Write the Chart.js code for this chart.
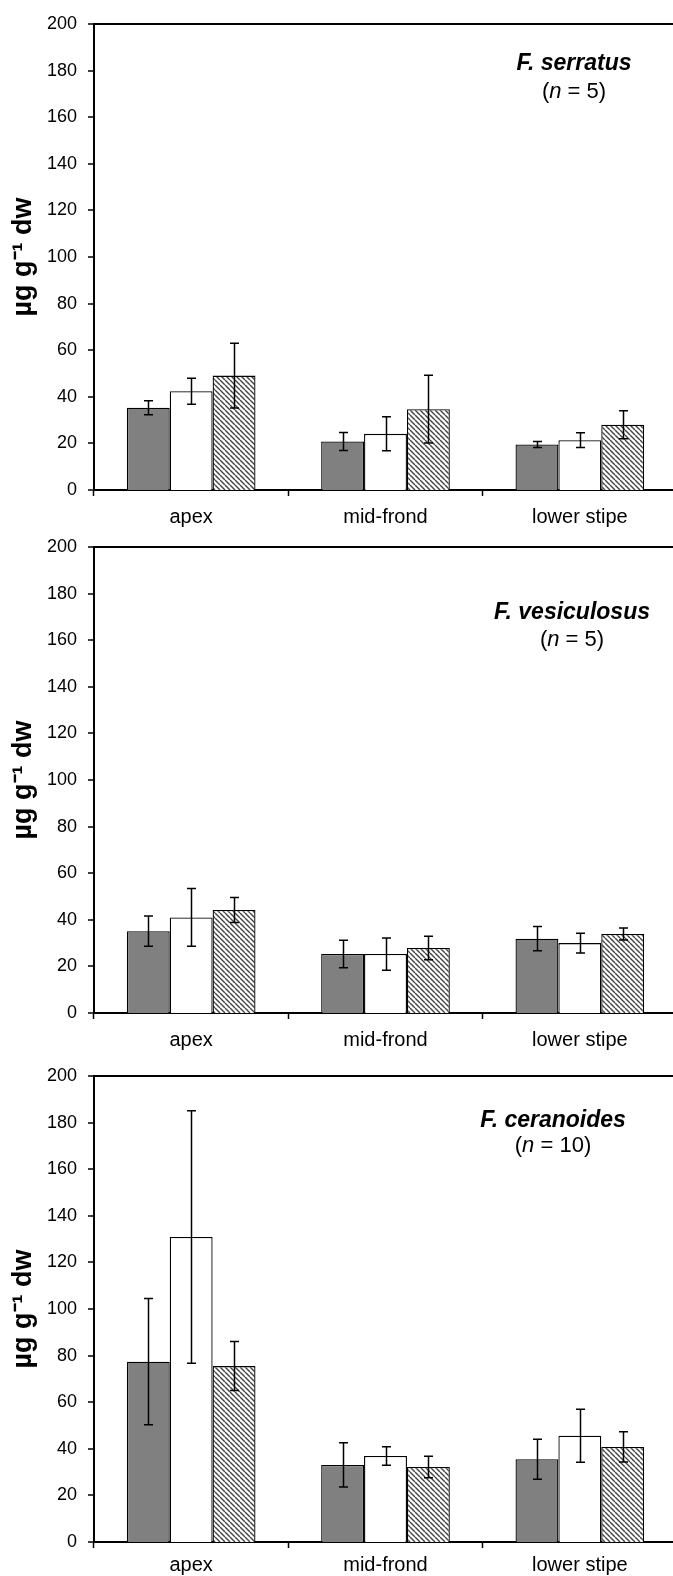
<!DOCTYPE html>
<html>
<head>
<meta charset="utf-8">
<script src="https://cdn.jsdelivr.net/npm/chart.js@4.4.1/dist/chart.umd.min.js"></script>
<style>
  html, body { margin: 0; padding: 0; background: #fff; }
  body { width: 673px; height: 1576px; position: relative; overflow: hidden; }
  .panel { position: absolute; left: 0; width: 680px; height: 540px; }
  canvas { display: block; }
</style>
</head>
<body>
<div class="panel" style="top:0px"><canvas id="c1" width="680" height="540"></canvas></div>
<div class="panel" style="top:523px"><canvas id="c2" width="680" height="540"></canvas></div>
<div class="panel" style="top:1052px"><canvas id="c3" width="680" height="540"></canvas></div>
<script>
// ---------- data ----------
const categories = ['apex', 'mid-frond', 'lower stipe'];
const yMin = 0, yMax = 200, yStep = 20;
const yAxisTitle = 'µg g⁻¹ dw';

// F. serratus (n = 5)
const serratusDark = [35.3, 20.8, 19.5];
const serratusDarkErr = [3.0, 3.9, 1.3];
const serratusWhite = [42.4, 24.1, 21.4];
const serratusWhiteErr = [5.6, 7.3, 3.2];
const serratusHatched = [49.1, 34.7, 28.0];
const serratusHatchedErr = [13.9, 14.5, 6.0];

// F. vesiculosus (n = 5)
const vesiculosusDark = [35.1, 25.3, 31.9];
const vesiculosusDarkErr = [6.5, 5.9, 5.2];
const vesiculosusWhite = [41.0, 25.3, 30.0];
const vesiculosusWhiteErr = [12.4, 6.9, 4.2];
const vesiculosusHatched = [44.2, 27.9, 33.9];
const vesiculosusHatchedErr = [5.4, 5.0, 2.6];

// F. ceranoides (n = 10)
const ceranoidesDark = [77.4, 33.1, 35.5];
const ceranoidesDarkErr = [27.1, 9.5, 8.6];
const ceranoidesWhite = [130.9, 36.9, 45.6];
const ceranoidesWhiteErr = [54.2, 4.0, 11.4];
const ceranoidesHatched = [75.5, 32.2, 40.8];
const ceranoidesHatchedErr = [10.5, 4.6, 6.5];

const speciesNames = ['F. serratus', 'F. vesiculosus', 'F. ceranoides'];
const sampleSizes = [5, 5, 10];

// ---------- styling ----------
const FONT = "'Liberation Sans', Arial, Helvetica, sans-serif";
const DARK = '#808080';

function makeHatch(ctx) {
  const s = 5;
  const c = document.createElement('canvas');
  c.width = s; c.height = s;
  const g = c.getContext('2d');
  g.fillStyle = '#ffffff';
  g.fillRect(0, 0, s, s);
  g.strokeStyle = '#444444';
  g.lineWidth = 1.4;
  for (const o of [-s, 0, s]) {
    g.beginPath();
    g.moveTo(o, 0);
    g.lineTo(o + s, s);
    g.stroke();
  }
  return ctx.createPattern(c, 'repeat');
}

const errorBarPlugin = {
  id: 'errorBars',
  afterDatasetsDraw(chart) {
    const ctx = chart.ctx;
    const y = chart.scales.y;
    ctx.save();
    ctx.strokeStyle = '#000';
    ctx.lineWidth = 1.5;
    chart.data.datasets.forEach((ds, i) => {
      const meta = chart.getDatasetMeta(i);
      meta.data.forEach((bar, j) => {
        const v = ds.data[j], e = ds.errors[j];
        const yt = y.getPixelForValue(v + e);
        const yb = y.getPixelForValue(v - e);
        const x = Math.round(bar.x) + 0.5;
        const cap = 4.5;
        ctx.beginPath();
        ctx.moveTo(x, yt); ctx.lineTo(x, yb);
        ctx.moveTo(x - cap, yt); ctx.lineTo(x + cap, yt);
        ctx.moveTo(x - cap, yb); ctx.lineTo(x + cap, yb);
        ctx.stroke();
      });
    });
    ctx.restore();
  }
};

const labelPlugin = {
  id: 'speciesLabel',
  afterDraw(chart, args, opts) {
    const ctx = chart.ctx;
    const y = chart.scales.y;
    const cx = opts.x;
    ctx.save();
    ctx.fillStyle = '#000';
    ctx.textBaseline = 'middle';
    ctx.textAlign = 'center';
    ctx.font = 'italic bold 23px ' + FONT;
    ctx.fillText(opts.name, cx, y.getPixelForValue(opts.nameValue));
    // (n = N)
    const yy = y.getPixelForValue(opts.nValue);
    const reg = '22px ' + FONT, ita = 'italic 22px ' + FONT;
    const parts = [['(', reg], ['n', ita], [' = ' + opts.n + ')', reg]];
    let total = 0;
    parts.forEach(p => { ctx.font = p[1]; total += ctx.measureText(p[0]).width; });
    let x = cx - total / 2;
    ctx.textAlign = 'left';
    parts.forEach(p => { ctx.font = p[1]; ctx.fillText(p[0], x, yy); x += ctx.measureText(p[0]).width; });
    ctx.restore();
  }
};

function makeChart(id, dark, darkErr, white, whiteErr, hatched, hatchedErr, label, xPad) {
  const canvas = document.getElementById(id);
  const ctx = canvas.getContext('2d');
  const common = { borderColor: '#000', borderWidth: 1.3, barPercentage: 1.0, categoryPercentage: 0.662 };
  return new Chart(ctx, {
    type: 'bar',
    data: {
      labels: categories,
      datasets: [
        Object.assign({ label: 'dark', data: dark, errors: darkErr, backgroundColor: DARK }, common),
        Object.assign({ label: 'white', data: white, errors: whiteErr, backgroundColor: '#ffffff' }, common),
        Object.assign({ label: 'hatched', data: hatched, errors: hatchedErr, backgroundColor: makeHatch(ctx) }, common)
      ]
    },
    options: {
      responsive: false,
      animation: false,
      devicePixelRatio: 1,
      layout: { padding: { top: 24, right: 3, bottom: 0, left: 0 } },
      plugins: {
        legend: { display: false },
        tooltip: { enabled: false },
        speciesLabel: label
      },
      scales: {
        x: {
          type: 'category',
          afterFit(scale) { scale.height = 50; },
          grid: { display: true, offset: true, drawOnChartArea: false, drawTicks: true, tickLength: 6, color: '#000', tickColor: '#000', tickWidth: 1.5 },
          border: { display: true, color: '#000', width: 2 },
          ticks: { color: '#000', font: { family: FONT, size: 20 }, padding: xPad, maxRotation: 0 }
        },
        y: {
          min: yMin, max: yMax,
          afterFit(scale) { scale.width = 94; },
          ticks: { stepSize: yStep, color: '#000', font: { family: FONT, size: 18 }, padding: 11 },
          grid: {
            display: true, drawOnChartArea: true, drawTicks: true, tickLength: 6,
            color: c => (c.tick && c.tick.value === yMax) ? '#000' : 'rgba(0,0,0,0)',
            lineWidth: c => (c.tick && c.tick.value === yMax) ? 2 : 0,
            tickColor: '#000', tickWidth: 1.5
          },
          border: { display: true, color: '#000', width: 2 },
          title: { display: true, text: yAxisTitle, color: '#000', font: { family: FONT, size: 27, weight: 'bold' }, padding: { top: 7, bottom: 0 } }
        }
      }
    },
    plugins: [errorBarPlugin, labelPlugin]
  });
}

makeChart('c1', serratusDark, serratusDarkErr, serratusWhite, serratusWhiteErr, serratusHatched, serratusHatchedErr,
  { name: speciesNames[0], n: sampleSizes[0], x: 574, nameValue: 183, nValue: 171 }, 9);
makeChart('c2', vesiculosusDark, vesiculosusDarkErr, vesiculosusWhite, vesiculosusWhiteErr, vesiculosusHatched, vesiculosusHatchedErr,
  { name: speciesNames[1], n: sampleSizes[1], x: 572, nameValue: 172, nValue: 160 }, 9);
makeChart('c3', ceranoidesDark, ceranoidesDarkErr, ceranoidesWhite, ceranoidesWhiteErr, ceranoidesHatched, ceranoidesHatchedErr,
  { name: speciesNames[2], n: sampleSizes[2], x: 553, nameValue: 181, nValue: 170 }, 5);
</script>
</body>
</html>
